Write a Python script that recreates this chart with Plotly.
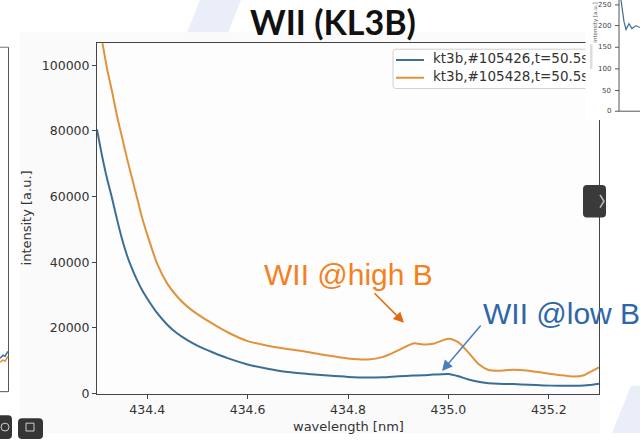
import plotly.graph_objects as go

W, H = 640, 440

# ---- spectra (wavelength in nm, intensity in a.u.) ----
wavelength = [434.30, 434.31, 434.32, 434.33, 434.34, 434.35, 434.36, 434.37, 434.38, 434.39,
              434.40, 434.42, 434.44, 434.46, 434.48, 434.50,
              434.53, 434.56, 434.60, 434.64, 434.68, 434.72, 434.76, 434.80, 434.84, 434.87,
              434.90, 434.93, 434.95, 434.97,
              435.00, 435.02, 435.04, 435.06, 435.08, 435.10,
              435.13, 435.16, 435.19, 435.22, 435.25, 435.27, 435.28, 435.30]
intensity_105426 = [80500, 72500, 65500, 59500, 53000, 47000, 42000, 38000, 34500, 31500,
                    29000, 24500, 21000, 18300, 16300, 14600,
                    12600, 10800, 8900, 7600, 6600, 6000, 5500, 5100, 4900, 5000,
                    5300, 5500, 5600, 5800,
                    6000, 5300, 4300, 3600, 3200, 3000,
                    2900, 2700, 2500, 2400, 2400, 2500, 2600, 3000]
intensity_105428 = [116000, 107500, 99000, 92000, 84500, 78000, 71500, 65500, 59500, 53500,
                    48500, 39500, 33500, 29500, 26500, 24200,
                    21300, 18700, 16000, 14600, 13600, 12700, 11600, 10700, 10400, 11200,
                    13200, 15300, 15000, 15200,
                    16700, 15600, 12500, 9000, 7200, 7000,
                    7300, 7000, 6300, 5700, 5200, 5600, 6400, 8000]
series_labels = ["kt3b,#105426,t=50.5s", "kt3b,#105428,t=50.5s"]
x_ticks = [434.4, 434.6, 434.8, 435.0, 435.2]
y_ticks = [0, 20000, 40000, 60000, 80000, 100000]
inset_tick_labels = ["250", "200", "150", "100", "50", "0"]

BLUE = "#3b6e96"
ORANGE = "#e0923c"
TXT = "#333333"
SPINE = "#444444"


def fx(x):
    return x / W


def fy(y):
    return 1 - y / H


def poly(points, close=True):
    s = "M " + " L ".join(f"{fx(x):.5f},{fy(y):.5f}" for x, y in points)
    return s + (" Z" if close else "")


def rounded(x0, y0, x1, y1, r):
    p = lambda x, y: f"{fx(x):.5f},{fy(y):.5f}"
    return (f"M {p(x0 + r, y0)} L {p(x1 - r, y0)} Q {p(x1, y0)} {p(x1, y0 + r)} "
            f"L {p(x1, y1 - r)} Q {p(x1, y1)} {p(x1 - r, y1)} L {p(x0 + r, y1)} "
            f"Q {p(x0, y1)} {p(x0, y1 - r)} L {p(x0, y0 + r)} Q {p(x0, y0)} {p(x0 + r, y0)} Z")


def rect(x0, y0, x1, y1, fill, line=None, layer="below", lw=1):
    return dict(type="rect", xref="paper", yref="paper", x0=fx(x0), x1=fx(x1),
                y0=fy(y1), y1=fy(y0), fillcolor=fill, layer=layer,
                line=dict(color=line or fill, width=lw if line else 0))


def seg(x0, y0, x1, y1, color, width=1, layer="below"):
    return dict(type="line", xref="paper", yref="paper", x0=fx(x0), y0=fy(y0),
                x1=fx(x1), y1=fy(y1), layer=layer, line=dict(color=color, width=width))


def pathshape(d, fill=None, line=None, lw=1, layer="below"):
    return dict(type="path", xref="paper", yref="paper", path=d, layer=layer,
                fillcolor=fill or "rgba(0,0,0,0)",
                line=dict(color=line or "rgba(0,0,0,0)", width=lw if line else 0))


fig = go.Figure()

fig.add_trace(go.Scatter(x=wavelength, y=intensity_105426, mode="lines", name=series_labels[0],
                         line=dict(color=BLUE, width=2, shape="spline", smoothing=0.7),
                         xaxis="x", yaxis="y"))
fig.add_trace(go.Scatter(x=wavelength, y=intensity_105428, mode="lines", name=series_labels[1],
                         line=dict(color=ORANGE, width=2, shape="spline", smoothing=0.7),
                         xaxis="x", yaxis="y"))

# legend labels, laid out on a full-page pixel axis
fig.add_trace(go.Scatter(x=[433, 433], y=[61, 79], mode="text", text=series_labels,
                         textposition="middle right", cliponaxis=False, hoverinfo="skip",
                         textfont=dict(family="DejaVu Sans", size=13.5, color=TXT),
                         xaxis="x2", yaxis="y2"))

shapes = [
    # slide background decoration
    pathshape(poly([(200, 0), (241, 0), (228, 33), (187, 33)]), fill="#e9eef8"),
    pathshape(poly([(612, 440), (640, 440), (640, 392), (631, 392)]), fill="#e9eef8"),
    # figure canvas and plot area
    rect(20, 33, 600, 440, "#fafafa"),
    rect(97, 44, 599, 400, "#fdfdfd"),
    # neighbouring figure on the left
    seg(8.5, 48, 8.5, 398, "#555555"),
    seg(0, 398, 8.5, 398, "#555555"),
    seg(0, 48, 8.5, 48, "#777777"),
    pathshape(poly([(0, 364), (3, 361), (5, 362), (8, 357)], close=False), line=BLUE, lw=1.5),
    pathshape(poly([(0, 368), (3, 366), (5, 367), (8, 362)], close=False), line=ORANGE, lw=1.5),
    # legend frame and handles
    pathshape(rounded(393, 50, 610, 90, 3), fill="#ffffff", line="#d0d0d0", lw=1),
    seg(396, 61, 424, 61, BLUE, 2),
    seg(396, 79, 424, 79, ORANGE, 2),
    # neighbouring figure on the top right, drawn over the corner
    rect(585.5, 0, 640, 122, "#ffffff", layer="above"),
    rect(590, 45, 592.5, 70, "#dcdcdc", layer="above"),
    seg(619, 0, 619, 113, "#555555", 1, "above"),
    seg(619, 113, 640, 113, "#555555", 1, "above"),
    pathshape(poly([(621, 0), (624, 22), (626, 30), (629, 24), (632, 29), (636, 26), (640, 28)],
                   close=False), line=BLUE, lw=1.2, layer="above"),
    # page navigation tab
    pathshape(rounded(583, 188, 606, 221, 4), fill="#3a3a3a", layer="above"),
    pathshape(poly([(600, 198), (604, 204.5), (600, 211)], close=False), line="#bdbdbd", lw=1.5,
              layer="above"),
    # viewer buttons bottom left
    pathshape(rounded(-6, 422, 12, 446, 4), fill="#353535", layer="above"),
    pathshape(rounded(18, 425, 43, 446, 4), fill="#353535", layer="above"),
    dict(type="circle", xref="paper", yref="paper", x0=fx(1), x1=fx(9), y0=fy(438), y1=fy(430),
         layer="above", line=dict(color="#cfcfcf", width=1)),
    rect(26, 430, 34, 438, "rgba(0,0,0,0)", line="#cfcfcf", layer="above"),
]
inset_tick_y = [5, 26, 48, 70, 92, 113]
for yy in inset_tick_y:
    shapes.append(seg(615, yy, 619, yy, "#555555", 1, "above"))

annotations = [
    dict(text="WII (KL3B)", x=fx(333), y=fy(22), xref="paper", yref="paper", showarrow=False,
         xanchor="center", yanchor="middle",
         font=dict(family="Lato", size=34, color="#111111", weight="bold")),
    dict(text="intensity [a.u.]", x=fx(26), y=fy(222), xref="paper", yref="paper",
         showarrow=False, textangle=-90, xanchor="center", yanchor="middle",
         font=dict(family="DejaVu Sans", size=13, color=TXT)),
    dict(text="wavelength [nm]", x=fx(348), y=fy(433), xref="paper", yref="paper",
         showarrow=False, xanchor="center", yanchor="middle",
         font=dict(family="DejaVu Sans", size=13, color=TXT)),
    dict(text="WII @high B", x=fx(262), y=fy(279), xref="paper", yref="paper",
         showarrow=False, xanchor="left", yanchor="middle",
         font=dict(family="Liberation Sans", size=30, color="#f5801e")),
    dict(text="WII @low B", x=fx(481), y=fy(319), xref="paper", yref="paper",
         showarrow=False, xanchor="left", yanchor="middle",
         font=dict(family="Liberation Sans", size=30, color="#2f66a8")),
    dict(text="", x=fx(404), y=fy(328), xref="paper", yref="paper", showarrow=True,
         ax=-31, ay=-31, arrowhead=2, arrowsize=1.4, arrowwidth=1.5, arrowcolor="#e2690f"),
    dict(text="", x=fx(442), y=fy(377), xref="paper", yref="paper", showarrow=True,
         ax=40, ay=-47, arrowhead=2, arrowsize=1.4, arrowwidth=1.5, arrowcolor="#4a7ec0"),
    dict(text="intensity [a.u.]", x=fx(596), y=fy(23), xref="paper", yref="paper",
         showarrow=False, textangle=-90, xanchor="center", yanchor="middle",
         font=dict(family="DejaVu Sans", size=5.5, color="#555555")),
]
for lab, yy in zip(inset_tick_labels, inset_tick_y):
    annotations.append(dict(text=lab, x=fx(613), y=fy(yy), xref="paper", yref="paper",
                            showarrow=False, xanchor="right", yanchor="middle",
                            font=dict(family="DejaVu Sans", size=7, color="#444444")))

axis_common = dict(showgrid=False, zeroline=False, showline=True, linecolor=SPINE, linewidth=1,
                   mirror=True, ticks="outside", ticklen=4, tickcolor=SPINE, tickwidth=1,
                   tickfont=dict(family="DejaVu Sans", size=12.5, color=TXT), fixedrange=True)

fig.update_layout(
    width=W, height=H, margin=dict(l=0, r=0, t=0, b=0),
    paper_bgcolor="#ffffff", plot_bgcolor="rgba(0,0,0,0)", showlegend=False,
    xaxis=dict(domain=[fx(97), fx(599)], range=[434.3, 435.3], tickvals=x_ticks,
               ticktext=[f"{v:.1f}" for v in x_ticks], anchor="y", **axis_common),
    yaxis=dict(domain=[fy(400), fy(44)], range=[0, 106700], tickvals=y_ticks,
               ticktext=[str(v) for v in y_ticks], anchor="x", **axis_common),
    xaxis2=dict(domain=[0, 1], range=[0, W], visible=False, anchor="y2", fixedrange=True),
    yaxis2=dict(domain=[0, 1], range=[H, 0], visible=False, anchor="x2", fixedrange=True),
    shapes=shapes, annotations=annotations,
)

fig.write_html("out.html")
